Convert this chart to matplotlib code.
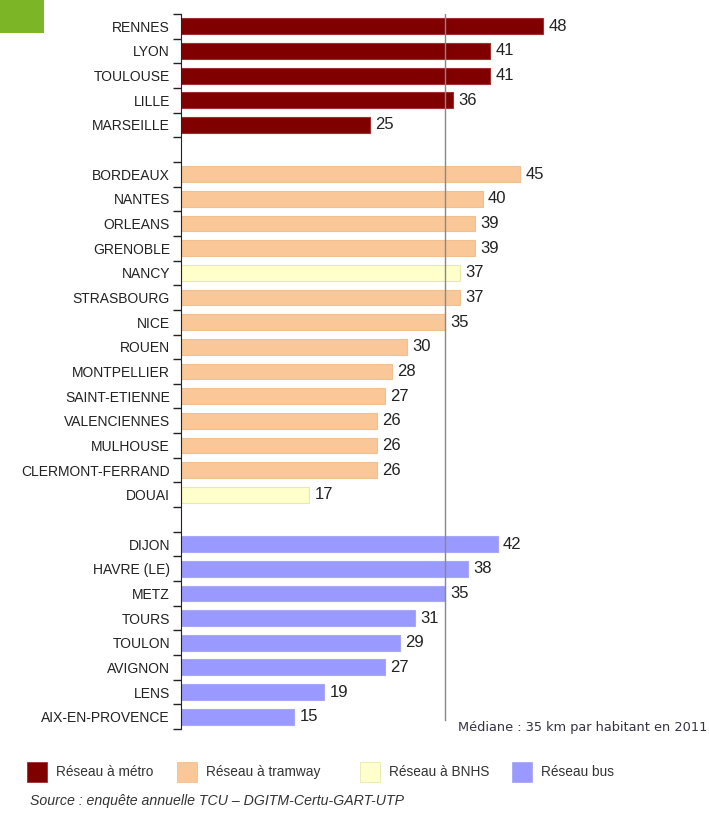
import matplotlib.pyplot as plt
from matplotlib.patches import Rectangle

# Data (km per inhabitant, 2011)
metro_cities = ['RENNES', 'LYON', 'TOULOUSE', 'LILLE', 'MARSEILLE']
metro_values = [48, 41, 41, 36, 25]

tram_cities = ['BORDEAUX', 'NANTES', 'ORLEANS', 'GRENOBLE', 'NANCY', 'STRASBOURG', 'NICE',
               'ROUEN', 'MONTPELLIER', 'SAINT-ETIENNE', 'VALENCIENNES', 'MULHOUSE',
               'CLERMONT-FERRAND', 'DOUAI']
tram_values = [45, 40, 39, 39, 37, 37, 35, 30, 28, 27, 26, 26, 26, 17]
tram_types = ['tram', 'tram', 'tram', 'tram', 'bnhs', 'tram', 'tram',
              'tram', 'tram', 'tram', 'tram', 'tram', 'tram', 'bnhs']

bus_cities = ['DIJON', 'HAVRE (LE)', 'METZ', 'TOURS', 'TOULON', 'AVIGNON', 'LENS',
              'AIX-EN-PROVENCE']
bus_values = [42, 38, 35, 31, 29, 27, 19, 15]

median_value = 35

colors = {'metro': '#800000', 'tram': '#FAC898', 'bnhs': '#FFFFCC', 'bus': '#9999FF'}
edges = {'metro': '#a03030', 'tram': '#f0c090', 'bnhs': '#e8e8b0', 'bus': '#a8a8f8'}
legend_labels = [('metro', 'Réseau à métro'), ('tram', 'Réseau à tramway'),
                 ('bnhs', 'Réseau à BNHS'), ('bus', 'Réseau bus')]

# Build rows with an empty slot between groups
rows = []
for c, v in zip(metro_cities, metro_values):
    rows.append((c, v, 'metro'))
rows.append(None)
for c, v, t in zip(tram_cities, tram_values, tram_types):
    rows.append((c, v, t))
rows.append(None)
for c, v in zip(bus_cities, bus_values):
    rows.append((c, v, 'bus'))

plt.rcParams['font.family'] = ['Liberation Sans', 'DejaVu Sans']

W, H = 709, 814
fig = plt.figure(figsize=(W / 100, H / 100), dpi=100)
ax = fig.add_axes([181 / W, 1 - 729 / H, 525 / W, (729 - 14) / H])

positions = []
labels = []
for i, r in enumerate(rows):
    if r is None:
        continue
    city, val, kind = r
    ax.barh(i, val, height=0.64, color=colors[kind], edgecolor=edges[kind], linewidth=0.8)
    ax.text(val + 0.7, i, str(val), va='center', ha='left', fontsize=12, color='#222222')
    positions.append(i)
    labels.append(city)

n = len(rows)
ax.set_ylim(n - 0.5, -0.5)
ax.set_xlim(0, 69.6)
ax.set_yticks(positions)
ax.set_yticklabels(labels, fontsize=10, color='#222222')
ax.tick_params(axis='y', which='major', length=0, pad=8)
ax.set_yticks([i - 0.5 for i in range(n + 1)], minor=True)
ax.tick_params(axis='y', which='minor', length=6, width=1, color='#222222', direction='out')
ax.set_xticks([])
for s in ['top', 'right', 'bottom']:
    ax.spines[s].set_visible(False)
ax.spines['left'].set_color('#222222')
ax.axvline(median_value, color='#888888', linewidth=1, ymin=0.012, ymax=1.0)

fig.text(458 / W, 1 - 728 / H, 'Médiane : 35 km par habitant en 2011', fontsize=9.3,
         family='DejaVu Sans', color='#333344', va='center', ha='left')

# green square top-left
fig.add_artist(Rectangle((0, 1 - 33 / H), 44 / W, 33 / H, transform=fig.transFigure,
                         facecolor='#7CB526', edgecolor='none'))

# legend
legend_x = [27, 177, 360, 512]
for (kind, lab), x in zip(legend_labels, legend_x):
    fig.add_artist(Rectangle((x / W, 1 - 782 / H), 20 / W, 20 / H, transform=fig.transFigure,
                             facecolor=colors[kind], edgecolor=edges[kind], linewidth=0.6))
    fig.text((x + 29) / W, 1 - 772 / H, lab, fontsize=9.8, color='#333333',
             va='center', ha='left')

fig.text(30 / W, 1 - 801 / H, 'Source : enquête annuelle TCU – DGITM-Certu-GART-UTP',
         fontsize=10.2, style='italic', color='#333333', va='center', ha='left')

fig.savefig('out.png', dpi=100)
